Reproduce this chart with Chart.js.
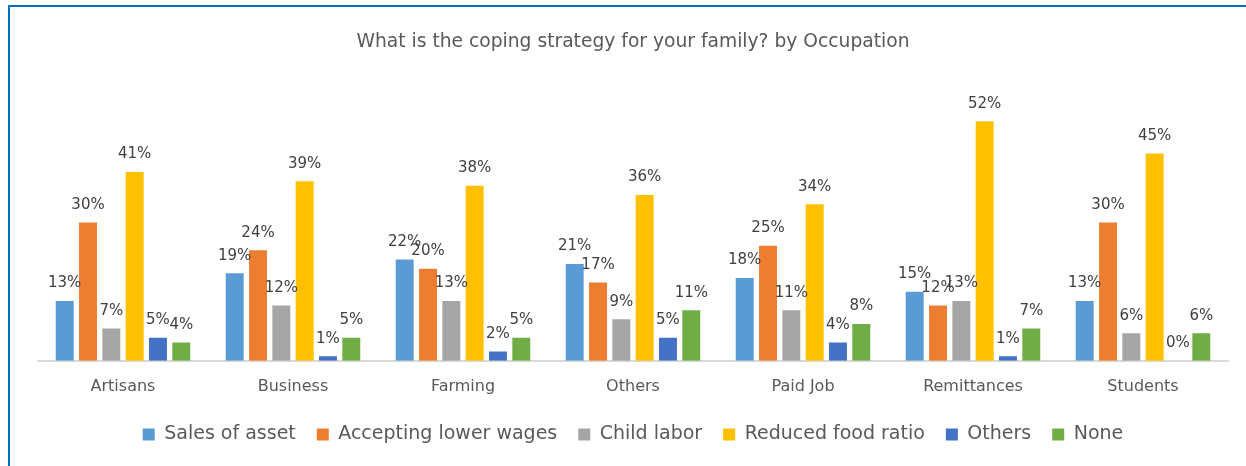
<!DOCTYPE html>
<html>
<head>
<meta charset="utf-8">
<script src="https://cdn.jsdelivr.net/npm/chart.js@4/dist/chart.umd.min.js"></script>
<style>
  html, body { margin: 0; padding: 0; background: #fff; }
  #wrap { position: relative; width: 1246px; height: 466px; overflow: hidden; }
  #frame { position: absolute; left: 8px; top: 5px; width: 1300px; height: 500px;
           border-left: 2px solid #0070C0; border-top: 2px solid #0070C0; }
  #chart { position: absolute; left: 0; top: 0; }
</style>
</head>
<body>
<div id="wrap">
  <div id="frame"></div>
  <canvas id="chart" width="1246" height="466"></canvas>
</div>
<script>
const categories = ['Artisans', 'Business', 'Farming', 'Others', 'Paid Job', 'Remittances', 'Students'];
const salesOfAsset = [13, 19, 22, 21, 18, 15, 13];
const lowerWages = [30, 24, 20, 17, 25, 12, 30];
const childLabor = [7, 12, 13, 9, 11, 13, 6];
const reducedFood = [41, 39, 38, 36, 34, 52, 45];
const othersStrategy = [5, 1, 2, 5, 4, 1, 0];
const noneStrategy = [4, 5, 5, 11, 8, 7, 6];

const FONT = 'DejaVu Sans';
const TEXT = '#595959';

// value labels above each bar
const barLabels = {
    id: 'barLabels',
    afterDatasetsDraw(chart) {
        const ctx = chart.ctx;
        ctx.save();
        ctx.font = '15px "' + FONT + '"';
        ctx.fillStyle = '#404040';
        ctx.textAlign = 'center';
        ctx.textBaseline = 'bottom';
        chart.data.datasets.forEach(function (ds, i) {
            chart.getDatasetMeta(i).data.forEach(function (bar, j) {
                ctx.fillText(ds.data[j] + '%', bar.x, bar.y - 10);
            });
        });
        ctx.restore();
    }
};

function makeSet(label, data, color) {
    return {
        label: label,
        data: data,
        backgroundColor: color,
        borderWidth: 0,
        categoryPercentage: 0.823,
        barPercentage: 0.77
    };
}

new Chart(document.getElementById('chart'), {
    type: 'bar',
    data: {
        labels: categories,
        datasets: [
            makeSet('Sales of asset', salesOfAsset, '#5B9BD5'),
            makeSet('Accepting lower wages', lowerWages, '#ED7D31'),
            makeSet('Child labor', childLabor, '#A5A5A5'),
            makeSet('Reduced food ratio', reducedFood, '#FFC000'),
            makeSet('Others', othersStrategy, '#4472C4'),
            makeSet('None', noneStrategy, '#70AD47')
        ]
    },
    options: {
        responsive: false,
        animation: false,
        layout: { padding: { left: 38, right: 18, top: 31, bottom: 12 } },
        scales: {
            x: {
                grid: { display: false },
                border: { display: true, color: '#D9D9D9', width: 2 },
                ticks: { color: TEXT, font: { family: FONT, size: 16 }, padding: 8 }
            },
            y: {
                display: false,
                min: 0,
                max: 60
            }
        },
        plugins: {
            title: {
                display: true,
                text: 'What is the coping strategy for your family? by Occupation',
                color: TEXT,
                font: { family: FONT, size: 18.7, weight: 'normal' },
                padding: { top: 0, bottom: 31 }
            },
            legend: {
                position: 'bottom',
                labels: {
                    color: TEXT,
                    font: { family: FONT, size: 19 },
                    boxWidth: 12,
                    boxHeight: 12,
                    padding: 21
                }
            },
            tooltip: { enabled: false }
        }
    },
    plugins: [barLabels]
});
</script>
</body>
</html>
